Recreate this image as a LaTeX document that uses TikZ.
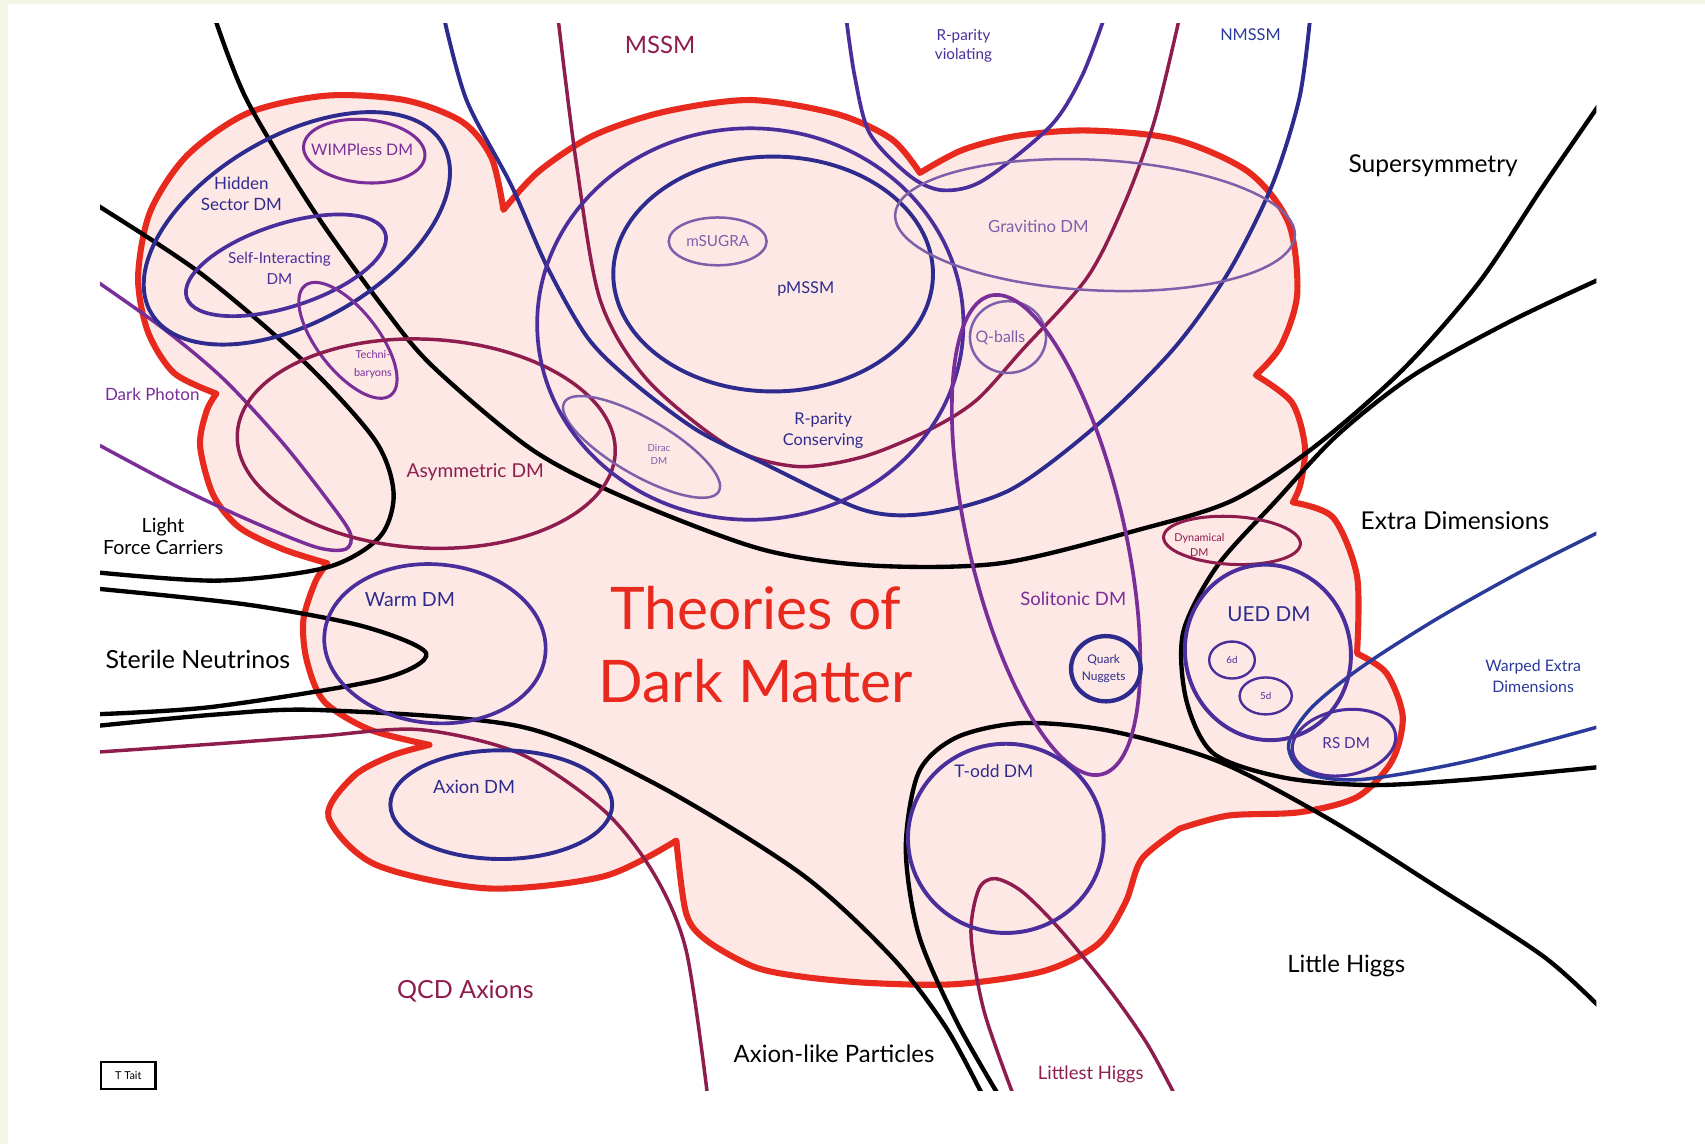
\documentclass[tikz,border=0pt]{standalone}
\usepackage{fontspec}
\setmainfont{Lato}
\definecolor{cream}{HTML}{F5F5E6}
\definecolor{cloudfill}{HTML}{FDE8E5}
\definecolor{cloudred}{HTML}{E8291E}
\definecolor{navy}{HTML}{2E2B8E}
\definecolor{pblue}{HTML}{4A2E9C}
\definecolor{purp}{HTML}{7A2E9A}
\definecolor{lpurp}{HTML}{7E5FAA}
\definecolor{maroon}{HTML}{8E1D4E}
\definecolor{wblue}{HTML}{2A3A9A}
\newcommand\fsz[2]{\fontsize{#1}{#2}\selectfont}
\newcommand\myell[6]{\draw[#1, rotate around={#6:(#2,#3)}] (#2,#3) ellipse [x radius=#4, y radius=#5];}
\newcommand\cloudpath{(199,362)
 -- plot[smooth] coordinates {(199,362) (160,343) (136,305) (127,255) (138,195) (172,143) (228,104) (300,88) (372,92) (425,112) (452,145) (463,193)}
 -- plot[smooth] coordinates {(463,193) (495,158) (545,125) (610,103) (690,92) (770,105) (820,128) (846,159)}
 -- plot[smooth] coordinates {(846,159) (885,138) (935,125) (1000,120) (1080,128) (1148,158) (1185,205) (1193,270) (1178,318) (1155,345)}
 -- plot[smooth] coordinates {(1155,345) (1188,370) (1200,410) (1196,445) (1189,462)}
 -- plot[smooth] coordinates {(1189,462) (1226,476) (1248,530) (1248,601)}
 -- plot[smooth] coordinates {(1248,601) (1275,619) (1290,659) (1280,700) (1248,733) (1195,747) (1130,750) (1085,762)}
 -- plot[smooth] coordinates {(1085,762) (1050,790) (1035,830) (1010,868) (960,893) (880,905) (800,904) (736,898) (693,889) (650,865) (631,840) (622,773)}
 -- plot[smooth] coordinates {(622,773) (555,806) (448,817) (345,795) (302,751) (325,714) (360,695) (395,685)}
 -- plot[smooth] coordinates {(395,685) (340,671) (298,645) (282,607) (279,570) (290,535) (301,518)}
 -- plot[smooth] coordinates {(301,518) (260,505) (220,485) (196,455) (184,410) (190,378) (199,362)} -- cycle}
\begin{document}
\begin{tikzpicture}[x=0.5pt,y=-0.5pt,
  blk/.style={draw=black, line width=2pt},
  navyl/.style={draw=navy, line width=1.8pt},
  pbl/.style={draw=pblue, line width=1.7pt},
  purl/.style={draw=purp, line width=1.6pt},
  lpl/.style={draw=lpurp, line width=1.15pt},
  marl/.style={draw=maroon, line width=1.6pt},
  wbl/.style={draw=wblue, line width=1.6pt},
  lbl/.style={inner sep=0pt, align=center}]
\useasboundingbox (0,0) rectangle (1568,1052);
\fill[cream] (0,0) rectangle (1568,1052);
\fill[white] (7,4) rectangle (1568,1052);

% cloud
\path[fill=cloudfill] \cloudpath;
\draw[cloudred, line width=2.8pt, line join=round] \cloudpath;

\begin{scope}
\clip (92,22) rectangle (1468,1003);
% black boundaries
\draw[blk] plot[smooth] coordinates {(197,15) (227,92) (288,193) (352,282) (398,337) (490,414) (580,460) (700,505) (800,520) (920,518) (1048,487) (1134,460) (1210,410) (1290,340) (1360,260) (1420,170) (1475,90)};
\draw[blk] plot[smooth] coordinates {(1475,255) (1390,295) (1300,345) (1230,400) (1174,460) (1119,521) (1088,582) (1091,644) (1116,693) (1180,715) (1260,722) (1350,717) (1475,705)};
\draw[blk] plot[smooth] coordinates {(85,186) (184,251) (280,333) (345,405) (362,454) (349,494) (300,522) (200,534) (85,526)};
\draw[blk] plot[smooth] coordinates {(85,541) (227,556) (334,576) (392,601) (349,625) (196,650) (85,657)};
\draw[blk] plot[smooth] coordinates {(85,668) (200,657) (294,653) (478,668) (601,720) (736,803) (820,880) (870,945) (905,1010)};
\draw[blk] plot[smooth] coordinates {(920,1010) (880,940) (845,860) (833,780) (845,710) (880,678) (940,665) (1020,672) (1120,700) (1220,752) (1320,815) (1420,880) (1475,930)};
% SUSY sub-classes
\draw[marl] plot[smooth] coordinates {(513,15) (530,150) (552,276) (595,349) (671,411) (733,429) (794,420) (855,395) (898,368) (940,322) (1000,255) (1035,185) (1062,110) (1085,15)};
\draw[pbl] plot[smooth] coordinates {(778,15) (786,70) (800,123) (837,162) (867,175) (904,166) (966,116) (995,70) (1016,15)};
\draw[navyl] plot[smooth] coordinates {(408,15) (429,92) (470,170) (503,245) (540,310) (579,349) (640,395) (702,426) (794,469) (855,472) (930,450) (1010,390) (1080,320) (1130,250) (1170,170) (1195,90) (1205,15)};
% dark photon
\draw[purl] plot[smooth] coordinates {(85,256) (150,302) (205,348) (258,405) (300,458) (322,490) (318,505) (290,503) (228,478) (160,446) (85,406)};
% QCD axions
\draw[marl] plot[smooth] coordinates {(85,692) (200,684) (294,677) (386,671) (478,693) (555,745) (601,803) (631,874) (651,1010)};
% littlest higgs
\draw[marl] plot[smooth] coordinates {(933,1010) (905,930) (893,860) (900,818) (915,808) (940,820) (975,855) (1020,910) (1055,960) (1082,1010)};
% warped
\draw[wbl] plot[smooth] coordinates {(1475,487) (1400,525) (1320,570) (1250,615) (1205,652) (1185,685) (1200,710) (1250,717) (1350,700) (1475,667)};
\end{scope}

% ellipses
\myell{navyl}{273}{210}{155}{85}{30}
\myell{pbl}{263}{244}{96}{38}{18}
\myell{purl,line width=1.4pt}{335}{139}{56}{29}{-5}
\myell{purl,line width=1.4pt}{320}{313}{64}{28}{-52}
\myell{marl}{392}{408}{174}{96}{-3}
\myell{lpl}{590}{411}{82}{26}{-30}
\myell{pbl}{690}{298}{196}{180}{0}
\myell{navyl}{711}{252}{147}{108}{0}
\myell{lpl}{660}{222}{45}{22}{0}
\myell{lpl}{1007}{207}{184}{60}{-3}
\myell{lpl}{927}{310}{35}{33}{0}
\myell{purl,line width=1.7pt}{962}{492}{72}{226}{13}
\myell{navyl,line width=2pt}{1017}{615}{32}{30}{0}
\myell{marl,line width=1.4pt}{1133}{497}{63}{22}{-3}
\myell{pbl,line width=1.8pt}{1166}{600}{76}{81}{15}
\myell{pbl,line width=1.1pt}{1133}{607}{21}{17}{0}
\myell{pbl,line width=1.1pt}{1164}{640}{24}{17}{0}
\myell{pbl,line width=1.4pt}{1236}{683}{48}{30}{10}
\myell{pbl}{400}{592}{102}{73}{-5}
\myell{navyl}{461}{740}{102}{50}{0}
\myell{pbl,line width=1.8pt}{925}{771}{90}{87}{0}

% labels
\node[lbl, text=maroon, font=\fsz{11}{13}] (mssm) at (607,41) {MSSM};
\node[lbl, text=pblue, font=\fsz{7}{9}] (rpv) at (886,42) {R-parity\\violating};
\node[lbl, text=wblue, font=\fsz{7.5}{9}] (nmssm) at (1150,32) {NMSSM};
\node[lbl, text=black, font=\fsz{11.3}{13}] (susy) at (1318,152) {Supersymmetry};
\node[lbl, text=purp, font=\fsz{7.3}{9}] (wimpless) at (333,138) {WIMPless DM};
\node[lbl, text=navy, font=\fsz{7.8}{9.5}] (hidden) at (222,178) {Hidden\\Sector DM};
\node[lbl, text=pblue, font=\fsz{7}{9.5}] (sidm) at (257,247) {Self-Interacting\\DM};
\node[lbl, text=purp, font=\fsz{5}{8}] (techni) at (343,335) {Techni-\\baryons};
\node[lbl, text=purp, font=\fsz{7.8}{9}] (dphoton) at (140,363) {Dark Photon};
\node[lbl, text=maroon, font=\fsz{8.8}{10}] (adm) at (437,434) {Asymmetric DM};
\node[lbl, text=black, font=\fsz{9}{10}] (lfc) at (150,493) {Light\\Force Carriers};
\node[lbl, text=black, font=\fsz{11.5}{13}] (sterile) at (182,606) {Sterile Neutrinos};
\node[lbl, text=navy, font=\fsz{9}{10}] (warm) at (377,551) {Warm DM};
\node[lbl, text=navy, font=\fsz{8.4}{10}] (axdm) at (436,724) {Axion DM};
\node[lbl, text=maroon, font=\fsz{11.5}{13}] (qcd) at (428,912) {QCD Axions};
\node[lbl, text=black, font=\fsz{11}{13}] (alp) at (767,969) {Axion-like Particles};
\node[lbl, text=maroon, font=\fsz{8.5}{10}] (lhiggs) at (1003,988) {Littlest Higgs};
\node[lbl, draw=black, line width=1pt, minimum width=25pt, minimum height=12.5pt, font=\fsz{5}{6}] (tait) at (118,989) {T Tait};
\node[lbl, text=cloudred, font=\fsz{27}{33.5}] (title) at (695,593) {Theories of\\Dark Matter};
\node[lbl, text=lpurp, font=\fsz{7}{9}] (msugra) at (660,222) {mSUGRA};
\node[lbl, text=navy, font=\fsz{7.5}{9}] (pmssm) at (741,266) {pMSSM};
\node[lbl, text=lpurp, font=\fsz{7.7}{9}] (gravitino) at (955,208) {Gravitino DM};
\node[lbl, text=lpurp, font=\fsz{7.3}{9}] (qballs) at (920,311) {Q-balls};
\node[lbl, text=lpurp, font=\fsz{4.5}{6}] (dirac) at (606,418) {Dirac\\DM};
\node[lbl, text=navy, font=\fsz{7.5}{9.5}] (rpc) at (757,396) {R-parity\\Conserving};
\node[lbl, text=maroon, font=\fsz{5}{7}] (dyn) at (1103,501) {Dynamical\\DM};
\node[lbl, text=purp, font=\fsz{8.5}{10}] (soliton) at (987,551) {Solitonic DM};
\node[lbl, text=navy, font=\fsz{5.5}{8}] (nuggets) at (1015,615) {Quark\\Nuggets};
\node[lbl, text=navy, font=\fsz{9.5}{11}] (ued) at (1167,565) {UED DM};
\node[lbl, text=pblue, font=\fsz{4.5}{6}] (sixd) at (1133,607) {6d};
\node[lbl, text=pblue, font=\fsz{4.5}{6}] (fived) at (1164,640) {5d};
\node[lbl, text=pblue, font=\fsz{7}{9}] (rsdm) at (1238,683) {RS DM};
\node[lbl, text=black, font=\fsz{11.3}{13}] (extra) at (1338,479) {Extra Dimensions};
\node[lbl, text=wblue, font=\fsz{7.3}{9.5}] (warped) at (1410,622) {Warped Extra\\Dimensions};
\node[lbl, text=navy, font=\fsz{8}{10}] (todd) at (914,709) {T-odd DM};
\node[lbl, text=black, font=\fsz{11}{13}] (little) at (1238,888) {Little Higgs};
\end{tikzpicture}
\end{document}
